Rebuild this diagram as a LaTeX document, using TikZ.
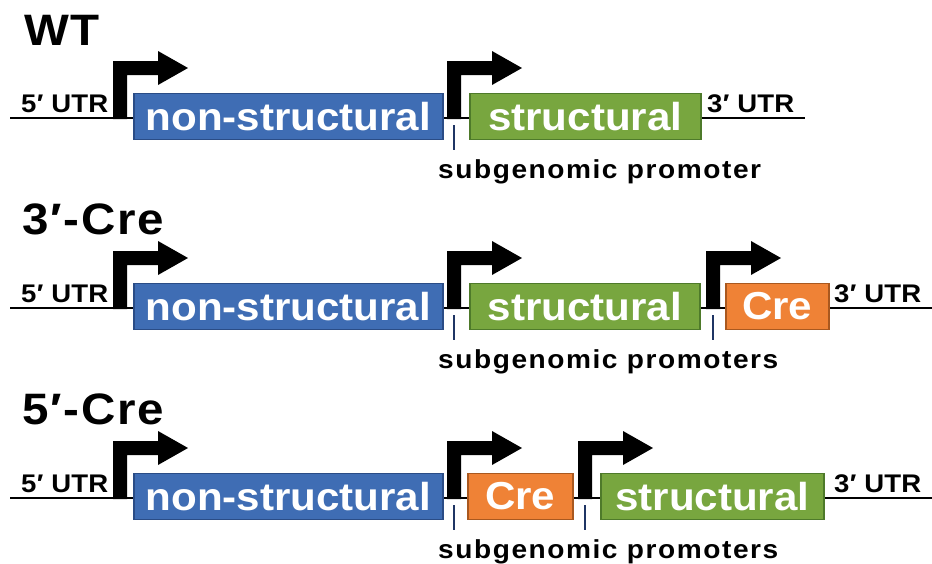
\documentclass[tikz,border=0pt]{standalone}
\usepackage{fontspec}
\setmainfont{Liberation Sans}[FakeStretch=1.08]
\definecolor{nsfill}{HTML}{3F6DB4}
\definecolor{nsedge}{HTML}{2A4C86}
\definecolor{sfill}{HTML}{78A63F}
\definecolor{sedge}{HTML}{4E7A2A}
\definecolor{crefill}{HTML}{EF8236}
\definecolor{creedge}{HTML}{A9581F}
\definecolor{tickblue}{HTML}{1F3564}

\begin{document}
\begin{tikzpicture}[x=1pt,y=-1pt,
  backbone/.style={line width=2.4pt, black},
  genebox/.style={rectangle, inner sep=0pt, minimum height=46pt, line width=1.6pt,
    anchor=west, text=white, font=\fontsize{39}{41}\selectfont\bfseries},
  nsbox/.style={genebox, fill=nsfill, draw=nsedge},
  sbox/.style={genebox, fill=sfill, draw=sedge},
  crebox/.style={genebox, fill=crefill, draw=creedge},
  utr/.style={anchor=base west, inner sep=0pt,
    font=\fontsize{25.5}{27}\selectfont\bfseries\addfontfeatures{LetterSpace=1}},
  titletext/.style={anchor=base west, inner sep=0pt,
    font=\fontsize{44}{46}\selectfont\bfseries\addfontfeatures{LetterSpace=4}},
  sgtext/.style={anchor=base west, inner sep=0pt,
    font=\fontsize{26}{28}\selectfont\bfseries\addfontfeatures{LetterSpace=6}},
  tickmark/.style={line width=1.4pt, tickblue},
  promoter/.pic={\fill[black] (0,1.2) -- (0,-57) -- (45,-57) -- (45,-67) -- (75,-50)
    -- (45,-33) -- (45,-43) -- (14,-43) -- (14,1.2) -- cycle;}
]
\fill[white] (0,0) rectangle (932,563);
\useasboundingbox (0,0) rectangle (932,563);

% ---------- WT ----------
\node[titletext] (wt) at (24,45) {WT};
\coordinate (r1s) at (10,118);
\coordinate (r1e) at (805,118);
\draw[backbone] (r1s) -- (r1e);
\node[utr] (r1utr5) at (21,112) {5′ UTR};
\pic at (113,118) {promoter};
\node[nsbox, minimum width=309pt] (r1ns) at (133,116.5) {non-structural};
\pic at (447,118) {promoter};
\node[sbox, minimum width=231pt] (r1s1) at (469,116.5) {structural};
\node[utr] (r1utr3) at (707,112) {3′ UTR};
\coordinate (r1ta) at (454,125);
\coordinate (r1tb) at (454,150);
\draw[tickmark] (r1ta) -- (r1tb);
\node[sgtext] (r1sg) at (438,178) {subgenomic promoter};

% ---------- 3'-Cre ----------
\node[titletext] (c3) at (22,234) {3′-Cre};
\coordinate (r2s) at (10,308);
\coordinate (r2e) at (932,308);
\draw[backbone] (r2s) -- (r2e);
\node[utr] (r2utr5) at (21,302) {5′ UTR};
\pic at (113,308) {promoter};
\node[nsbox, minimum width=309pt] (r2ns) at (133,306.5) {non-structural};
\pic at (447,308) {promoter};
\node[sbox, minimum width=230pt] (r2s1) at (469,306.5) {structural};
\pic at (706,308) {promoter};
\node[crebox, minimum width=103pt] (r2cre) at (725,306.5) {Cre};
\node[utr] (r2utr3) at (834,302) {3′ UTR};
\coordinate (r2ta) at (454,315);
\coordinate (r2tb) at (454,340);
\draw[tickmark] (r2ta) -- (r2tb);
\coordinate (r2tc) at (713,315);
\coordinate (r2td) at (713,340);
\draw[tickmark] (r2tc) -- (r2td);
\node[sgtext] (r2sg) at (438,368) {subgenomic promoters};

% ---------- 5'-Cre ----------
\node[titletext] (c5) at (22,424) {5′-Cre};
\coordinate (r3s) at (10,498);
\coordinate (r3e) at (932,498);
\draw[backbone] (r3s) -- (r3e);
\node[utr] (r3utr5) at (21,492) {5′ UTR};
\pic at (113,498) {promoter};
\node[nsbox, minimum width=309pt] (r3ns) at (133,496.5) {non-structural};
\pic at (447,498) {promoter};
\node[crebox, minimum width=105pt] (r3cre) at (467,496.5) {Cre};
\pic at (578,498) {promoter};
\node[sbox, minimum width=223pt] (r3s1) at (600,496.5) {structural};
\node[utr] (r3utr3) at (834,492) {3′ UTR};
\coordinate (r3ta) at (454,505);
\coordinate (r3tb) at (454,530);
\draw[tickmark] (r3ta) -- (r3tb);
\coordinate (r3tc) at (585,505);
\coordinate (r3td) at (585,530);
\draw[tickmark] (r3tc) -- (r3td);
\node[sgtext] (r3sg) at (438,558) {subgenomic promoters};
\end{tikzpicture}
\end{document}
